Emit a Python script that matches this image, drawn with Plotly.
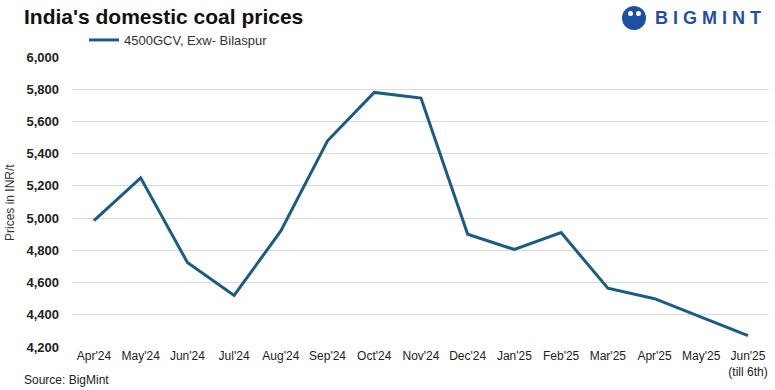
import plotly.graph_objects as go

months = ["Apr'24", "May'24", "Jun'24", "Jul'24", "Aug'24", "Sep'24", "Oct'24", "Nov'24",
          "Dec'24", "Jan'25", "Feb'25", "Mar'25", "Apr'25", "May'25", "Jun'25<br>(till 6th)"]
prices = [4985, 5250, 4725, 4520, 4920, 5480, 5780, 5745, 4900, 4805, 4910, 4565, 4500, 4385, 4270]
series_name = "4500GCV, Exw- Bilaspur"
y_ticks = [4200, 4400, 4600, 4800, 5000, 5200, 5400, 5600, 5800, 6000]

L, R, T, B = 72, 6, 57, 43
W, H = 775, 390
pw = W - L - R
ph = H - T - B
def px(xp): return (xp - L) / pw
def py(yp): return (H - B - yp) / ph

fig = go.Figure()
fig.add_trace(go.Scatter(x=list(range(len(months))), y=prices, mode="lines", name=series_name,
                         line=dict(color="#1b5c82", width=3)))

fig.update_layout(
    width=W, height=H,
    margin=dict(l=L, r=R, t=T, b=B, autoexpand=False),
    paper_bgcolor="white", plot_bgcolor="white",
    font=dict(family="Liberation Sans, Arial, sans-serif", color="#222"),
    showlegend=True,
    legend=dict(orientation="h", x=px(84), y=py(40), xanchor="left", yanchor="middle",
                font=dict(size=13, color="#333"), bgcolor="rgba(0,0,0,0)"),
    xaxis=dict(tickmode="array", tickvals=list(range(len(months))), ticktext=months,
               range=[-0.47, 14.45], showgrid=False, zeroline=False, showline=False,
               ticks="", automargin=False,
               tickfont=dict(size=12, family="Liberation Sans Narrow, Liberation Sans, Arial", color="#222")),
    yaxis=dict(range=[4200, 6000], tickvals=y_ticks, tickformat=",d", showgrid=True,
               gridcolor="#d9d9d9", gridwidth=1, zeroline=False, showline=False, ticks="",
               ticklabelstandoff=12, automargin=False,
               tickfont=dict(size=13, color="#222", family="Liberation Sans, Arial", weight="bold")),
)

fig.add_annotation(text="<b>India's domestic coal prices</b>", x=px(22), y=py(16), xref="paper", yref="paper",
                   showarrow=False, font=dict(size=21, color="#111"), xanchor="left", yanchor="middle")
fig.add_annotation(text="Prices in INR/t", x=px(10), y=py(202), xref="paper", yref="paper", textangle=-90,
                   showarrow=False, font=dict(size=12, color="#333", family="Liberation Sans Narrow, Liberation Sans"),
                   xanchor="center", yanchor="middle")
fig.add_annotation(text="Source: BigMint", x=px(22), y=py(380), xref="paper", yref="paper",
                   showarrow=False, font=dict(size=12, color="#222", family="Liberation Sans Narrow, Liberation Sans"),
                   xanchor="left", yanchor="middle")
fig.add_annotation(text="<b>B I G M I N T</b>", x=px(653), y=py(18), xref="paper", yref="paper",
                   showarrow=False, font=dict(size=18, color="#1f4fa3"), xanchor="left", yanchor="middle")
fig.add_shape(type="circle", xref="paper", yref="paper", x0=px(622), x1=px(646), y0=py(30), y1=py(6),
              fillcolor="#1f4fa3", line=dict(width=0))
fig.add_shape(type="circle", xref="paper", yref="paper", x0=px(628), x1=px(633), y0=py(16), y1=py(11),
              fillcolor="white", line=dict(width=0))
fig.add_shape(type="circle", xref="paper", yref="paper", x0=px(636), x1=px(641), y0=py(16), y1=py(11),
              fillcolor="white", line=dict(width=0))

fig.write_html("out.html", config={"displayModeBar": False},
               post_script="document.body.style.margin='0';document.body.style.overflow='hidden';")
